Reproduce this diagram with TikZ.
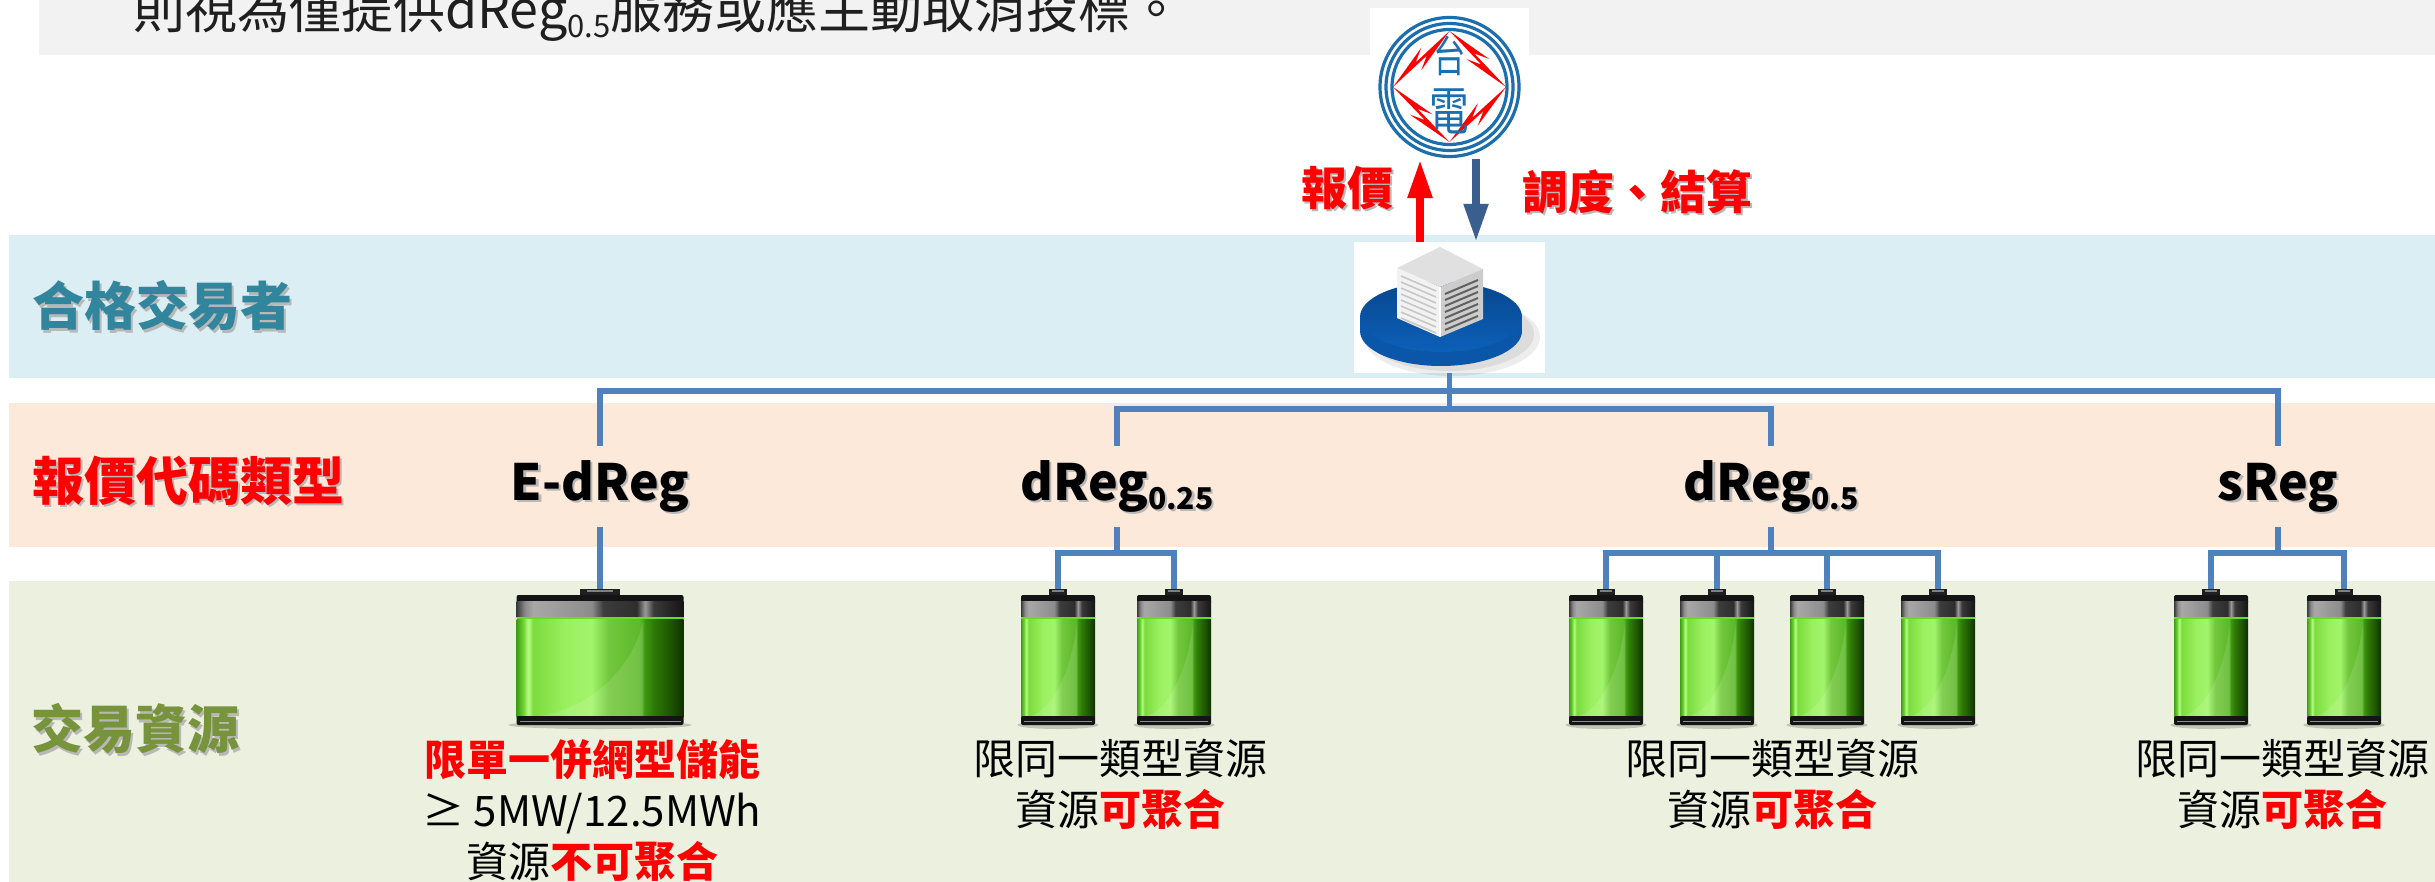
\documentclass[tikz,border=0pt]{standalone}
\usepackage{fontspec}
\setmainfont{Noto Sans CJK TC}
\usetikzlibrary{arrows.meta,calc}

% palette
\definecolor{bandgray}{HTML}{F2F2F2}
\definecolor{bandblue}{HTML}{DBEEF4}
\definecolor{bandorange}{HTML}{FDE9D9}
\definecolor{bandgreen}{HTML}{EBF1DE}
\definecolor{rowteal}{HTML}{31859C}
\definecolor{rowolive}{HTML}{77933C}
\definecolor{hotred}{HTML}{FF0000}
\definecolor{treeblue}{HTML}{4F81BD}
\definecolor{arrowblue}{HTML}{3A5F8E}
\definecolor{logoblue}{HTML}{1C6EAD}
\definecolor{disktop}{HTML}{0C60B8}
\definecolor{diskback}{HTML}{07478F}
\definecolor{diskfront}{HTML}{0A56A8}

% battery colours
\definecolor{bg0}{HTML}{3E9E14}
\definecolor{bg1}{HTML}{6FD034}
\definecolor{bg2}{HTML}{B6FF86}
\definecolor{bg3}{HTML}{7CDB3E}
\definecolor{bg4}{HTML}{9BF060}
\definecolor{bg5}{HTML}{A2F46A}
\definecolor{bg6}{HTML}{72C83C}
\definecolor{bg7}{HTML}{5DB82A}
\definecolor{bg8}{HTML}{3E9410}
\definecolor{bg9}{HTML}{2E7A06}
\definecolor{bg10}{HTML}{1C5200}
\definecolor{bg11}{HTML}{0F3000}
\definecolor{bm0}{HTML}{3A3A3A}
\definecolor{bm1}{HTML}{8A8A8A}
\definecolor{bm2}{HTML}{A8A8A8}
\definecolor{bm3}{HTML}{8C8C8C}
\definecolor{bm4}{HTML}{3C3C3C}
\definecolor{bm5}{HTML}{2E2E2E}
\definecolor{bm6}{HTML}{9A9A9A}
\definecolor{bm7}{HTML}{151515}
\definecolor{glow}{HTML}{66DD22}

\pgfdeclarehorizontalshading{battbody}{100bp}{%
  color(0bp)=(bg0); color(25bp)=(bg0); color(27bp)=(bg1); color(28.5bp)=(bg2);
  color(30bp)=(bg3); color(40bp)=(bg4); color(47.5bp)=(bg5); color(52.5bp)=(bg6);
  color(62bp)=(bg7); color(63.5bp)=(bg8); color(66bp)=(bg9); color(71.5bp)=(bg10);
  color(75bp)=(bg11); color(100bp)=(bg11)}
\pgfdeclarehorizontalshading{battmetal}{100bp}{%
  color(0bp)=(bm0); color(25bp)=(bm0); color(27.5bp)=(bm1); color(30bp)=(bm2);
  color(47.5bp)=(bm3); color(51bp)=(bm4); color(61bp)=(bm5); color(63.5bp)=(bm6);
  color(66bp)=(bm0); color(75bp)=(bm7); color(100bp)=(bm7)}

% text with a soft drop shadow
\newcommand{\shd}[2]{\makebox[0pt][l]{\hspace{2.5pt}\raisebox{-2.5pt}{\textcolor{black!28}{#2}}}\textcolor{#1}{#2}}
% lowered index: size, drop, text
\newcommand{\lowidx}[3]{\raisebox{-#2}{\fontsize{#1}{#1}\selectfont #3}}

\begin{document}
\begin{tikzpicture}[x=1pt,y=-1pt,
  treeline/.style={treeblue, line width=5.5pt},
  rowlbl/.style={anchor=west, inner sep=0pt, font=\bfseries\fontsize{52}{60}\selectfont},
  codelbl/.style={anchor=base, inner xsep=2pt, inner ysep=17pt, text height=37pt, text depth=10pt,
    font=\bfseries\fontsize{50}{60}\selectfont},
  desctext/.style={anchor=north, inner sep=0pt, align=center, font=\fontsize{42}{51}\selectfont},
  cellnode/.style={minimum height=136pt, inner sep=0pt, outer sep=0pt},
  emblemchar/.style={text=logoblue, font=\fontsize{36}{36}\selectfont, inner sep=0pt},
  pics/battery/.style={code={
    \pgfmathsetmacro{\hw}{#1/2}
    \fill[black, opacity=0.18] (0,68) ellipse ({\hw*1.1} and 4);
    \fill[black!88] ({-0.12*#1},-68) rectangle ({0.12*#1},-61);
    \fill[black!50] ({-0.08*#1},-67) rectangle ({0.08*#1},-65);
    \fill[black!92, rounded corners=2pt] (-\hw,-62) rectangle (\hw,-53);
    \shade[shading=battmetal] (-\hw,-56) rectangle (\hw,-40);
    \fill[glow] (-\hw,-40) rectangle (\hw,-38);
    \shade[shading=battbody] (-\hw,-38) rectangle (\hw,60);
    \fill[white, opacity=0.12] ({-\hw+0.1*#1},60) .. controls ({-\hw+0.5*#1},52) and ({-\hw+0.72*#1},0) .. ({-\hw+0.76*#1},-38) -- ({-\hw+0.76*#1},60) -- cycle;
    \fill[black!92, rounded corners=2pt] (-\hw,59) rectangle (\hw,68);
    \draw[black!45, line width=1.2pt] ({-\hw+3},64.5) -- ({\hw-3},64.5);
  }}
]
\useasboundingbox (0,0) rectangle (2435,882);
\clip (0,0) rectangle (2435,882);
\fill[white] (0,0) rectangle (2435,882);

% horizontal bands
\fill[bandgray] (39,0) rectangle (2435,55);
\fill[bandblue] (9,235) rectangle (2435,378);
\fill[bandorange] (9,403) rectangle (2435,547);
\fill[bandgreen] (9,581) rectangle (2435,882);

% note line at the top
\node[anchor=base west, inner sep=0pt, font=\fontsize{52}{60}\selectfont, text=black!88] (note) at (133,29)
  {則視為僅提供dReg\lowidx{31}{9pt}{0.5}服務或應主動取消投標。};

% row titles
\node[rowlbl] (rowA) at (32,307) {\shd{rowteal}{合格交易者}};
\node[rowlbl] (rowB) at (32,482) {\shd{hotred}{報價代碼類型}};
\node[rowlbl] (rowC) at (31,730) {\shd{rowolive}{交易資源}};

% Taipower emblem
\node[fill=white, minimum width=159pt, minimum height=151pt, inner sep=0pt] (logo) at (1449.5,83.5) {};
\foreach \rad in {69.5,63.5,57.5}
  \draw[logoblue, line width=3.2pt] (1449.5,87) circle (\rad);
\coordinate (lT) at (1449.5,31);
\coordinate (lL) at (1393,87);
\coordinate (lR) at (1506,87);
\coordinate (lB) at (1449.5,142);
\foreach \a/\b in {lT/lL, lT/lR, lL/lB, lR/lB}
  \fill[hotred] (\a) -- ($(\a)!0.6!(\b)!8pt!90:(\b)$) -- ($(\a)!0.42!(\b)!1.5pt!90:(\b)$) -- (\b)
    -- ($(\a)!0.4!(\b)!-8pt!90:(\b)$) -- ($(\a)!0.58!(\b)!-1.5pt!90:(\b)$) -- cycle;
\node[emblemchar, xscale=0.9, yscale=1.2] (tai) at (1449.5,56) {台};
\node[emblemchar, xscale=1.1, yscale=1.45] (dian) at (1449.5,111) {電};

% trading party (server on a platform)
\node[fill=white, minimum width=191pt, minimum height=131pt, inner sep=0pt] (srv) at (1449.5,307.5) {};
\fill[black, opacity=0.07] (1452,337) ellipse (88 and 39);
\fill[black, opacity=0.07] (1450,334) ellipse (84 and 37);
\fill[diskfront] (1441,331) ellipse (81 and 35);
\fill[diskfront] (1360,317) rectangle (1522,331);
\shade[top color=diskback, bottom color=disktop] (1441,317) ellipse (81 and 35);
\fill[black!12] (1440,247) -- (1397,268) -- (1440,287) -- (1483,269) -- cycle;
\fill[black!5] (1397,268) -- (1440,287) -- (1440,337) -- (1397,318) -- cycle;
\fill[black!20] (1440,287) -- (1483,269) -- (1483,319) -- (1440,337) -- cycle;
\foreach \k in {0,...,7}
  \draw[black!22, line width=1.6pt] (1401,{276+6*\k}) -- (1436,{291+6*\k});
\foreach \k in {0,...,6}
  \draw[black!62, line width=2pt] (1445,{294+6*\k}) -- (1478,{280+6*\k});
\draw[white, line width=1.5pt] (1440,287) -- (1440,337);

% bid / dispatch arrows
\draw[hotred, line width=8.5pt, -{Triangle[length=39pt,width=23pt]}]
  ([xshift=-29.5pt]srv.north) -- ([xshift=-29.5pt]logo.south);
\draw[arrowblue, line width=8pt, -{Triangle[length=38pt,width=23pt]}]
  ([xshift=26.5pt]logo.south) -- ([xshift=26.5pt]srv.north);
\node[inner sep=0pt, font=\bfseries\fontsize{46}{50}\selectfont] (bid) at (1347,189) {\shd{hotred}{報價}};
\node[inner sep=0pt, font=\bfseries\fontsize{46}{50}\selectfont] (dispatch) at (1637,193) {\shd{hotred}{調度、結算}};

% bid code types
\node[codelbl] (ed) at (600,500) {\shd{black}{E-dReg}};
\node[codelbl] (d25) at (1117,500) {\shd{black}{dReg\lowidx{30}{9pt}{0.25}}};
\node[codelbl] (d5) at (1771,500) {\shd{black}{dReg\lowidx{30}{9pt}{0.5}}};
\node[codelbl] (sr) at (2278,500) {\shd{black}{sReg}};

% resources
\node[cellnode, minimum width=167pt] (cE) at (600,657) {};
\node[cellnode, minimum width=74pt] (c1) at (1058,657) {};
\node[cellnode, minimum width=74pt] (c2) at (1174,657) {};
\node[cellnode, minimum width=74pt] (c3) at (1606,657) {};
\node[cellnode, minimum width=74pt] (c4) at (1717,657) {};
\node[cellnode, minimum width=74pt] (c5) at (1827,657) {};
\node[cellnode, minimum width=74pt] (c6) at (1938,657) {};
\node[cellnode, minimum width=74pt] (c7) at (2211,657) {};
\node[cellnode, minimum width=74pt] (c8) at (2344,657) {};
\pic at (cE.center) {battery=167};
\foreach \c in {c1,c2,c3,c4,c5,c6,c7,c8}
  \pic at (\c.center) {battery=74};

% tree connectors
\coordinate (j1) at (1449.5,391);
\coordinate (j2) at (1449.5,409);
\coordinate (k25) at (1117,553);
\coordinate (k5) at (1771,553);
\coordinate (ks) at (2278,553);
\draw[treeline] (srv.south) -- (j2);
\draw[treeline] (ed.north) |- (j1) -| (sr.north);
\draw[treeline] (d25.north) |- (j2) -| (d5.north);
\draw[treeline] (ed.south) -- (cE.north);
\draw[treeline] (d25.south) -- (k25);
\draw[treeline] (c1.north) |- (k25) -| (c2.north);
\draw[treeline] (d5.south) -- (k5);
\draw[treeline] (c3.north) |- (k5) -| (c6.north);
\draw[treeline] (c4.north) -- (c4.north |- k5);
\draw[treeline] (c5.north) -- (c5.north |- k5);
\draw[treeline] (sr.south) -- (ks);
\draw[treeline] (c7.north) |- (ks) -| (c8.north);

% resource notes
\node[desctext] (tE) at (592,739) {{\bfseries\color{hotred}限單一併網型儲能}\\≥ 5MW/12.5MWh\\資源{\bfseries\color{hotred}不可聚合}};
\node[desctext] (t25) at (1120,739) {限同一類型資源\\資源{\bfseries\color{hotred}可聚合}};
\node[desctext] (t5) at (1772,739) {限同一類型資源\\資源{\bfseries\color{hotred}可聚合}};
\node[desctext] (ts) at (2282,739) {限同一類型資源\\資源{\bfseries\color{hotred}可聚合}};
\end{tikzpicture}
\end{document}
